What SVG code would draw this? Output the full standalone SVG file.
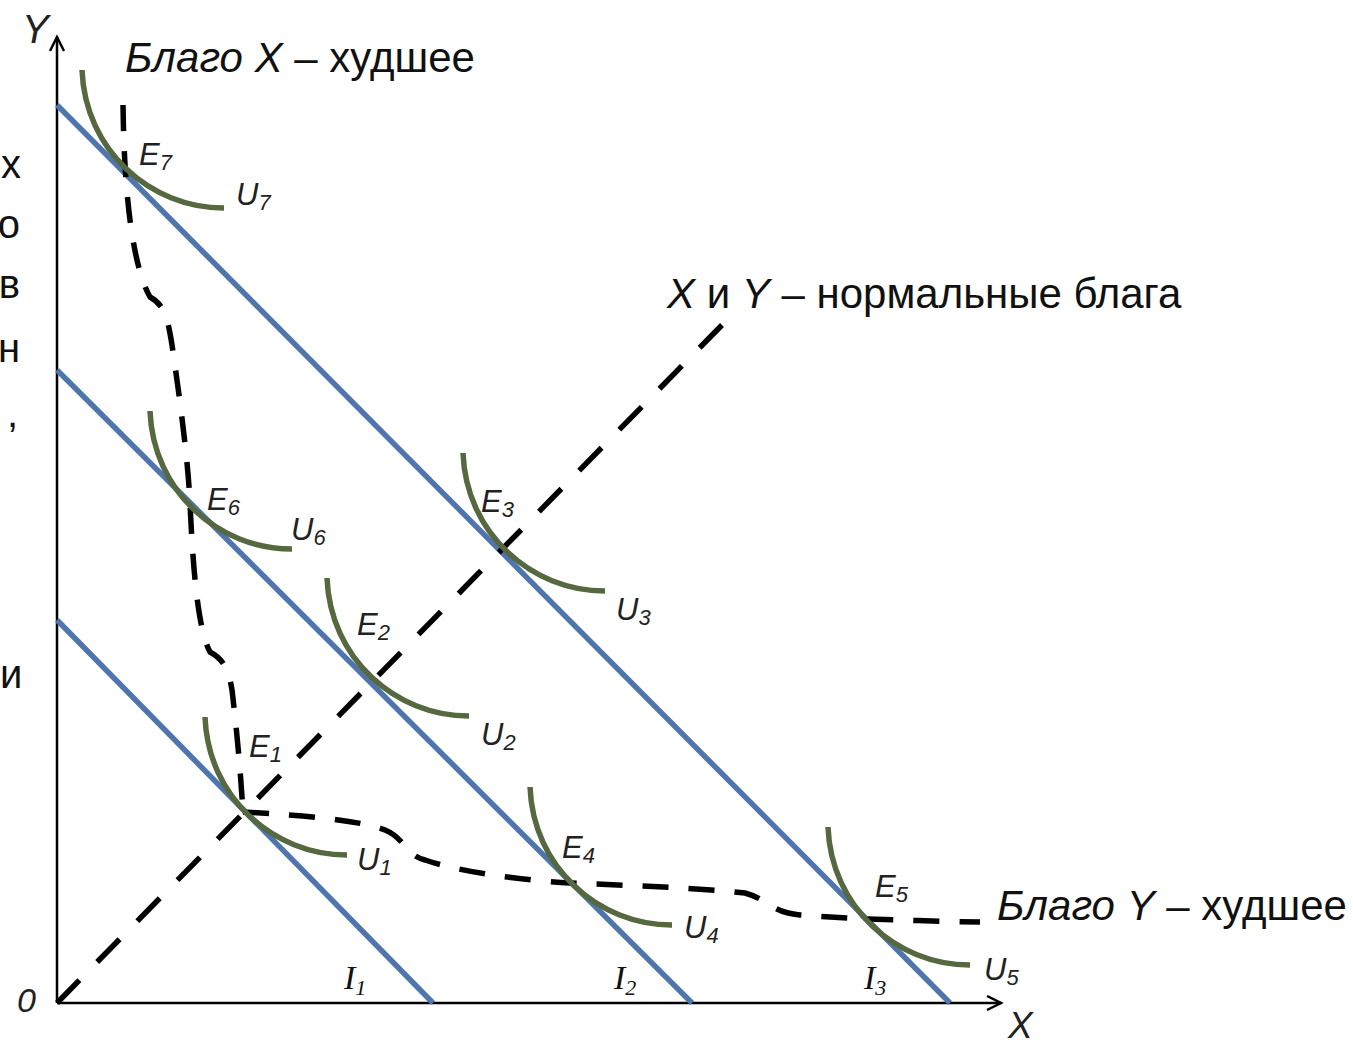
<svg xmlns="http://www.w3.org/2000/svg" xmlns:xlink="http://www.w3.org/1999/xlink" width="1353" height="1046" viewBox="0 0 1353 1046">
<style>
.ax{stroke:#000;stroke-width:2.5;fill:none}
.bl{stroke:#4e76ad;stroke-width:5.5;fill:none}
.ic{stroke:#55683f;stroke-width:5.5;fill:none}
.dash{stroke:#000;stroke-width:5.5;fill:none;stroke-dasharray:26 20}
.dashd{stroke:#000;stroke-width:5.5;fill:none;stroke-dasharray:32 25.36}
.lbl{font-family:"Liberation Sans",Arial,sans-serif;font-style:italic;font-size:31px;fill:#222}
.sub{font-size:22px}
.axl{font-family:"Liberation Sans",Arial,sans-serif;font-style:italic;font-size:40px;fill:#222}
.big{font-family:"Liberation Sans",Arial,sans-serif;font-size:42px;fill:#111}
.cut{font-family:"Liberation Sans",Arial,sans-serif;font-size:40px;fill:#111}
.it{font-style:italic}
.ilab{font-family:"Liberation Serif","Times New Roman",serif;font-style:italic;font-size:34px;fill:#111}
.isub{font-size:22px}
</style>
<defs>
<marker id="arr" markerWidth="20" markerHeight="20" refX="15" refY="8" orient="auto" markerUnits="userSpaceOnUse">
<path d="M1,1 L15,8 L1,15" fill="none" stroke="#000" stroke-width="2.5"/>
</marker>
<path id="u" d="M0,0 C3,80 68,138 142,138"/>
</defs>

<g id="cutoff-text" class="cut">
<text x="21" y="178" text-anchor="end">х</text>
<text x="20" y="238" text-anchor="end">о</text>
<text x="20" y="298" text-anchor="end">в</text>
<text x="20" y="362" text-anchor="end">н</text>
<text x="18" y="427" text-anchor="end">,</text>
<text x="0" y="688">и</text>
</g>

<g id="axes">
<path class="ax" d="M57,1003 V37" marker-end="url(#arr)"/>
<path class="ax" d="M57,1003 H1001" marker-end="url(#arr)"/>
<text class="axl" x="22" y="43">Y</text>
<text class="axl" style="font-size:37px" x="1008" y="1038">X</text>
<text class="axl" style="font-size:34px" x="17" y="1012">0</text>
</g>

<g id="budget-lines">
<g id="I1"><path class="bl" d="M57,620 L433,1003"/><text class="ilab" x="344" y="989">I<tspan class="isub" dy="6">1</tspan></text></g>
<g id="I2"><path class="bl" d="M57,370 L692,1003"/><text class="ilab" x="614" y="989">I<tspan class="isub" dy="6">2</tspan></text></g>
<g id="I3"><path class="bl" d="M57,105 L950,1003"/><text class="ilab" x="864" y="989">I<tspan class="isub" dy="6">3</tspan></text></g>
</g>

<g id="connectors">
<path class="dashd" d="M57,1003 L722,325"/>
<path class="dash" d="M123,105 C124,190 132,265 150,297 C165,305 168,320 172,345 C180,400 188,460 190,503 C193,570 198,630 210,652 C225,660 229,672 232,690 C238,740 241,780 243,812"/>
<path class="dash" d="M243,812 C300,815 360,820 385,830 C405,838 405,855 425,860 C460,872 520,880 570,883 C640,886 700,888 745,893 C770,900 770,912 800,915 C850,919 920,921 980,922"/>
</g>

<g id="E1"><use xlink:href="#u" class="ic" x="205" y="717"/><text class="lbl" x="249" y="757">E<tspan class="sub" dy="5">1</tspan></text><text class="lbl" x="357" y="870">U<tspan class="sub" dy="5">1</tspan></text></g>
<g id="E2"><use xlink:href="#u" class="ic" x="327" y="578"/><text class="lbl" x="357" y="635">E<tspan class="sub" dy="5">2</tspan></text><text class="lbl" x="481" y="745">U<tspan class="sub" dy="5">2</tspan></text></g>
<g id="E3"><use xlink:href="#u" class="ic" x="463" y="453"/><text class="lbl" x="481" y="512">E<tspan class="sub" dy="5">3</tspan></text><text class="lbl" x="616" y="620">U<tspan class="sub" dy="5">3</tspan></text></g>
<g id="E4"><use xlink:href="#u" class="ic" x="530" y="787"/><text class="lbl" x="562" y="858">E<tspan class="sub" dy="5">4</tspan></text><text class="lbl" x="684" y="938">U<tspan class="sub" dy="5">4</tspan></text></g>
<g id="E5"><use xlink:href="#u" class="ic" x="828" y="827"/><text class="lbl" x="875" y="897">E<tspan class="sub" dy="5">5</tspan></text><text class="lbl" x="984" y="980">U<tspan class="sub" dy="5">5</tspan></text></g>
<g id="E6"><use xlink:href="#u" class="ic" x="150" y="411"/><text class="lbl" x="207" y="510">E<tspan class="sub" dy="5">6</tspan></text><text class="lbl" x="291" y="540">U<tspan class="sub" dy="5">6</tspan></text></g>
<g id="E7"><use xlink:href="#u" class="ic" x="82" y="70"/><text class="lbl" x="139" y="165">E<tspan class="sub" dy="5">7</tspan></text><text class="lbl" x="236" y="205">U<tspan class="sub" dy="5">7</tspan></text></g>

<g id="titles" class="big">
<text x="125" y="72"><tspan class="it">Благо X</tspan> – худшее</text>
<text x="667" y="308"><tspan class="it">X</tspan> и <tspan class="it">Y</tspan> – нормальные блага</text>
<text x="997" y="920"><tspan class="it">Благо Y</tspan> – худшее</text>
</g>
</svg>
